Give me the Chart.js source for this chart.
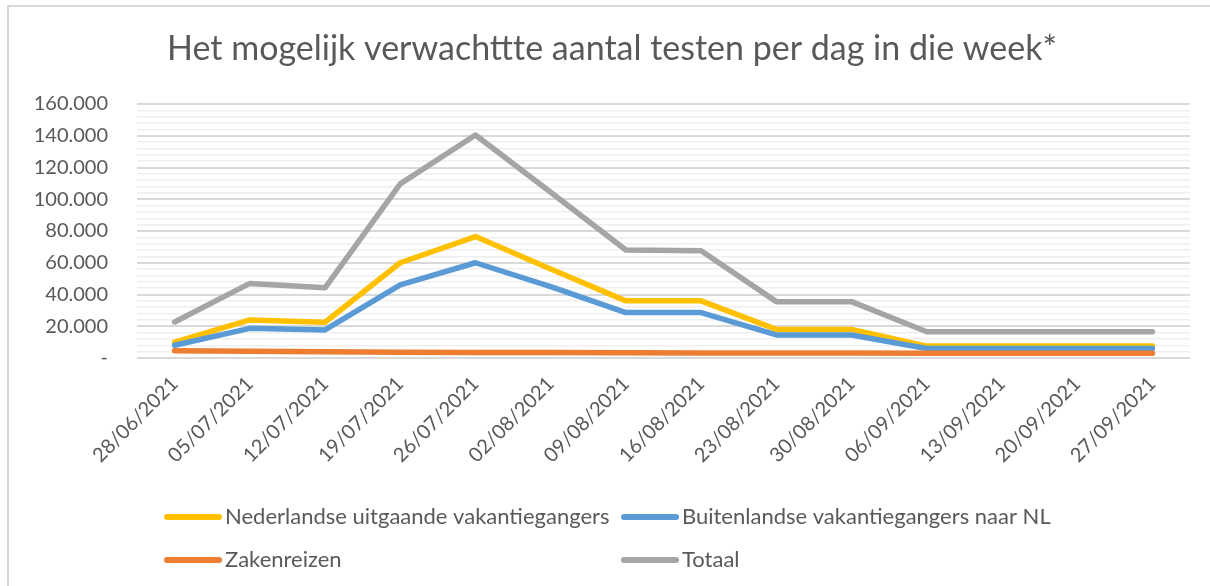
<!DOCTYPE html>
<html>
<head>
<meta charset="utf-8">
<script src="https://cdn.jsdelivr.net/npm/chart.js@4.4.0/dist/chart.umd.min.js"></script>
<style>
  html, body { margin: 0; padding: 0; background: #ffffff; }
  #wrap { position: absolute; left: 0; top: 0; width: 1210px; height: 586px; }
</style>
</head>
<body>
<div id="wrap"><canvas id="c" width="1210" height="586"></canvas></div>
<script>
const categories = ['28/06/2021','05/07/2021','12/07/2021','19/07/2021','26/07/2021','02/08/2021','09/08/2021','16/08/2021','23/08/2021','30/08/2021','06/09/2021','13/09/2021','20/09/2021','27/09/2021'];
const nederlandse = [10000, 24000, 22500, 60000, 76500, 56000, 36000, 36000, 18000, 18000, 7500, 7500, 7500, 7500];
const buitenlandse = [8000, 18700, 17700, 46000, 60000, 45000, 28600, 28600, 14500, 14500, 6000, 6000, 6000, 6000];
const zakenreizen = [4500, 4200, 4000, 3700, 3500, 3400, 3300, 3200, 3100, 3100, 3000, 3000, 3000, 3000];
const totaal = [22700, 47000, 44200, 109700, 140500, 104400, 68000, 67600, 35500, 35500, 16500, 16500, 16500, 16500];
const yTickLabels = ['-', '20.000', '40.000', '60.000', '80.000', '100.000', '120.000', '140.000', '160.000'];
const seriesNames = ['Nederlandse uitgaande vakantiegangers', 'Buitenlandse vakantiegangers naar NL', 'Zakenreizen', 'Totaal'];
const titleText = 'Het mogelijk verwachttte aantal testen per dag in die week*';

const FONT = 'Lato, "Open Sans", sans-serif';
const TEXT = '#595959';

const decor = {
  id: 'decor',
  afterDraw(chart) {
    const ctx = chart.ctx;
    ctx.save();
    // outer border (top + left visible)
    ctx.strokeStyle = '#d9d9d9';
    ctx.lineWidth = 2;
    ctx.beginPath();
    ctx.moveTo(8, 586);
    ctx.lineTo(8, 6);
    ctx.lineTo(1210, 6);
    ctx.stroke();
    // title
    ctx.fillStyle = TEXT;
    ctx.font = '34px ' + FONT;
    ctx.textAlign = 'center';
    ctx.textBaseline = 'middle';
    ctx.fillText(titleText, 612, 49);
    // legend
    const cols = [164, 621];
    const rows = [517, 560];
    ctx.font = '22px ' + FONT;
    ctx.textAlign = 'left';
    chart.data.datasets.forEach((ds, i) => {
      const x = cols[i % 2], y = rows[Math.floor(i / 2)];
      ctx.strokeStyle = ds.borderColor;
      ctx.lineWidth = 6;
      ctx.lineCap = 'round';
      ctx.beginPath();
      ctx.moveTo(x + 3, y);
      ctx.lineTo(x + 55, y);
      ctx.stroke();
      ctx.fillStyle = TEXT;
      ctx.fillText(ds.label, x + 61, y);
    });
    ctx.restore();
  }
};

const lineOpts = { borderWidth: 5.5, pointRadius: 0, pointHoverRadius: 0, tension: 0, fill: false, borderCapStyle: 'round', borderJoinStyle: 'round' };

new Chart(document.getElementById('c'), {
  type: 'line',
  data: {
    labels: categories,
    datasets: [
      Object.assign({ label: seriesNames[0], data: nederlandse, borderColor: '#FFC000', backgroundColor: '#FFC000', order: 4 }, lineOpts),
      Object.assign({ label: seriesNames[1], data: buitenlandse, borderColor: '#5B9BD5', backgroundColor: '#5B9BD5', order: 3 }, lineOpts),
      Object.assign({ label: seriesNames[2], data: zakenreizen, borderColor: '#ED7D31', backgroundColor: '#ED7D31', order: 2 }, lineOpts),
      Object.assign({ label: seriesNames[3], data: totaal, borderColor: '#A5A5A5', backgroundColor: '#A5A5A5', order: 1 }, lineOpts)
    ]
  },
  options: {
    responsive: false,
    animation: false,
    devicePixelRatio: 1,
    layout: { padding: { top: 104, right: 20, bottom: 0, left: 0 } },
    plugins: { legend: { display: false }, title: { display: false }, tooltip: { enabled: false } },
    scales: {
      x: {
        offset: true,
        grid: { display: false },
        border: { display: false },
        ticks: { color: TEXT, font: { family: FONT, size: 20 }, maxRotation: 45, minRotation: 45, padding: 6, autoSkip: false },
        afterFit(s) { s.height = 228; }
      },
      y: {
        min: 0, max: 160000,
        border: { display: false },
        grid: {
          drawTicks: false,
          tickLength: 0,
          color: (c) => (c.tick && c.tick.value % 20000 === 0) ? '#d9d9d9' : '#efefef',
          lineWidth: (c) => (c.tick && c.tick.value % 20000 === 0) ? 2 : 1.5
        },
        ticks: {
          stepSize: 4000,
          autoSkip: false,
          color: TEXT,
          padding: 29,
          font: { family: FONT, size: 20 },
          callback: (v) => (v % 20000 === 0) ? yTickLabels[v / 20000] : ''
        },
        afterFit(s) { s.width = 137; }
      }
    }
  },
  plugins: [decor]
});
</script>
</body>
</html>
